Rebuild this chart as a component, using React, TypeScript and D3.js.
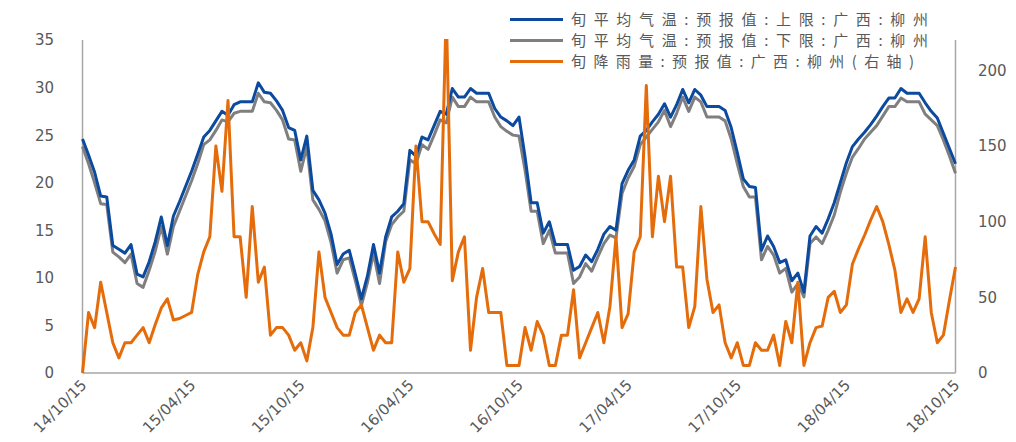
import React from 'react';
import * as d3 from 'd3';

// dekadal forecasts, 14/10/15 .. 18/10/15 (3 points a month)
const upperTemp = [
  24.6, 22.9, 21.1, 18.6, 18.5, 13.4, 13.0, 12.6, 13.5, 10.4,
  10.1, 11.7, 13.8, 16.4, 13.4, 16.5, 18.0, 19.6, 21.2, 23.0,
  24.8, 25.5, 26.5, 27.5, 27.1, 28.2, 28.5, 28.5, 28.5, 30.5,
  29.5, 29.4, 28.6, 27.6, 25.8, 25.5, 22.4, 24.9, 19.2, 18.2,
  16.8, 14.6, 11.4, 12.5, 12.9, 10.4, 7.8, 10.2, 13.5, 10.5,
  14.3, 16.4, 17.0, 17.8, 23.4, 22.8, 24.8, 24.5, 26.0, 27.5,
  27.2, 29.9, 29.0, 29.0, 29.9, 29.4, 29.4, 29.4, 27.8, 26.9,
  26.5, 26.0, 26.9, 22.7, 17.9, 17.9, 14.7, 15.9, 13.5, 13.5,
  13.5, 10.8, 11.2, 12.4, 11.7, 13.0, 14.6, 15.4, 15.0, 19.9,
  21.3, 22.4, 24.9, 25.5, 26.4, 27.2, 28.3, 26.9, 28.2, 29.8,
  28.4, 29.8, 29.2, 28.0, 28.0, 28.0, 27.6, 25.8, 23.2, 20.4,
  19.6, 19.5, 12.9, 14.4, 13.3, 11.6, 11.9, 9.7, 10.5, 8.5,
  14.4, 15.4, 14.7, 16.2, 17.9, 20.0, 22.1, 23.8, 24.6, 25.3,
  26.1, 27.0, 28.0, 28.9, 28.9, 29.9, 29.4, 29.4, 29.4, 28.4,
  27.5, 26.8, 25.2, 23.6, 22.0,
];

const lowerTemp = [
  23.8, 22.0, 20.0, 17.8, 17.7, 12.7, 12.2, 11.6, 12.5, 9.4,
  9.0, 10.8, 12.8, 15.4, 12.5, 15.4, 17.0, 18.6, 20.2, 22.0,
  24.0, 24.5, 25.5, 26.6, 26.4, 27.3, 27.5, 27.5, 27.5, 29.4,
  28.5, 28.4, 27.6, 26.6, 24.6, 24.5, 21.2, 23.8, 18.2, 17.2,
  16.0, 13.7, 10.5, 11.9, 12.1, 9.7, 7.1, 9.5, 12.6, 9.4,
  13.8, 15.6, 16.4, 17.0, 22.4, 22.0, 24.0, 23.5, 25.0, 26.6,
  26.3, 29.0, 28.0, 28.0, 29.0, 28.5, 28.5, 28.5, 26.9, 25.9,
  25.4, 25.0, 24.9, 21.3, 17.0, 17.0, 13.6, 15.0, 12.6, 12.6,
  12.6, 9.4, 10.1, 11.5, 10.7, 12.2, 13.6, 14.5, 14.2, 18.9,
  20.5, 21.7, 24.0, 24.8, 25.6, 26.4, 27.6, 25.9, 27.3, 29.0,
  27.5, 29.0, 28.5, 26.9, 26.9, 26.9, 26.5, 24.6, 22.0, 19.6,
  18.5, 18.5, 11.9, 13.3, 12.4, 10.5, 11.0, 8.5, 9.4, 8.0,
  13.6, 14.3, 13.6, 15.0, 16.6, 19.0, 21.0, 22.7, 23.6, 24.6,
  25.3, 26.0, 27.0, 28.0, 28.0, 28.9, 28.5, 28.5, 28.5, 27.2,
  26.6, 26.0, 24.5, 22.8, 21.0,
];

const rainfall = [
  0, 40, 30, 60, 40, 20, 10, 20, 20, 25,
  30, 20, 32, 43, 49, 35, 36, 38, 40, 65,
  80, 90, 150, 120, 180, 90, 90, 50, 110, 60,
  70, 25, 30, 30, 25, 15, 20, 8, 30, 80,
  50, 40, 30, 25, 25, 40, 45, 30, 15, 25,
  20, 20, 80, 60, 69, 150, 100, 100, 92, 85,
  240, 61, 80, 90, 15, 50, 69, 40, 40, 40,
  5, 5, 5, 30, 15, 34, 25, 5, 5, 25,
  25, 55, 10, 20, 30, 40, 20, 44, 90, 30,
  39, 80, 90, 190, 90, 130, 100, 130, 70, 70,
  30, 44, 110, 62, 40, 45, 20, 10, 20, 5,
  5, 20, 15, 15, 25, 5, 34, 20, 60, 5,
  20, 30, 31, 50, 54, 40, 45, 72, 82, 91,
  101, 110, 100, 85, 68, 40, 49, 40, 49, 90,
  40, 20, 25, 48, 70,
];

const xTickLabels = ['14/10/15', '15/04/15', '15/10/15', '16/04/15', '16/10/15', '17/04/15', '17/10/15', '18/04/15', '18/10/15'];
const pointsPerTick = 18;
const leftTicks = [0, 5, 10, 15, 20, 25, 30, 35];
const rightTicks = [0, 50, 100, 150, 200];

const seriesNames = [
  '旬平均气温:预报值:上限:广西:柳州',
  '旬平均气温:预报值:下限:广西:柳州',
  '旬降雨量:预报值:广西:柳州(右轴)',
];
const colors = ['#0b4a9e', '#7f7f7f', '#e46c0a'];

const width = 1016, height = 442;
const plot = { left: 82.5, right: 955.5, top: 40, bottom: 373 };
const tickColor = '#595959';
const numFont = '"DejaVu Sans", Verdana, sans-serif';
const cjkFont = '"Noto Sans CJK SC", sans-serif';

const App = () => {
  const x = d3.scaleLinear().domain([0, upperTemp.length - 1]).range([plot.left, plot.right]);
  const yLeft = d3.scaleLinear().domain([0, 35]).range([plot.bottom, plot.top]);
  const yRight = d3.scaleLinear().domain([0, 220]).range([plot.bottom, plot.top]);

  const tempLine = d3.line<number>().x((d, i) => x(i)).y((d) => yLeft(d));
  const rainLine = d3.line<number>().x((d, i) => x(i)).y((d) => yRight(d));

  return (
    <svg width={width} height={height} style={{ position: 'absolute', left: 0, top: 0, background: '#fff' }}>
      <defs>
        <clipPath id="plotClip">
          <rect x={0} y={plot.top - 1} width={width} height={plot.bottom - plot.top + 10} />
        </clipPath>
      </defs>

      {/* axis lines */}
      <g stroke="#a6a6a6" strokeWidth={1.5} fill="none">
        <line x1={plot.left} x2={plot.left} y1={plot.top} y2={plot.bottom} />
        <line x1={plot.right} x2={plot.right} y1={plot.top} y2={plot.bottom} />
        <line x1={plot.left} x2={plot.right} y1={plot.bottom} y2={plot.bottom} />
      </g>

      {/* left axis */}
      {leftTicks.map((t) => (
        <text key={'l' + t} x={54} y={yLeft(t)} dy="0.36em" textAnchor="end"
          fontFamily={numFont} fontSize={15} fill={tickColor}>{t}</text>
      ))}
      {/* right axis */}
      {rightTicks.map((t) => (
        <text key={'r' + t} x={978} y={yRight(t)} dy="0.36em" textAnchor="start"
          fontFamily={numFont} fontSize={15} fill={tickColor}>{t}</text>
      ))}
      {/* date labels */}
      {xTickLabels.map((label, k) => {
        const px = x(k * pointsPerTick) + 5;
        const py = 386;
        return (
          <text key={label} x={px} y={py} textAnchor="end" transform={`rotate(-45, ${px}, ${py})`}
            fontFamily={numFont} fontSize={15} fill={tickColor}>{label}</text>
        );
      })}

      {/* series */}
      <g clipPath="url(#plotClip)" fill="none" strokeWidth={3} strokeLinejoin="round">
        <path d={tempLine(lowerTemp) ?? ''} stroke={colors[1]} />
        <path d={tempLine(upperTemp) ?? ''} stroke={colors[0]} />
        <path d={rainLine(rainfall) ?? ''} stroke={colors[2]} />
      </g>

      {/* legend */}
      {seriesNames.map((name, i) => {
        const ly = 19.5 + i * 21;
        return (
          <g key={name}>
            <line x1={510} x2={563} y1={ly} y2={ly} stroke={colors[i]} strokeWidth={3} />
            <text x={571} y={ly} dy="0.36em" fontFamily={cjkFont} fontSize={15} fill={tickColor}
              textLength={i === 2 ? 343 : 357} lengthAdjust="spacing">{name}</text>
          </g>
        );
      })}
    </svg>
  );
};

export default App;
